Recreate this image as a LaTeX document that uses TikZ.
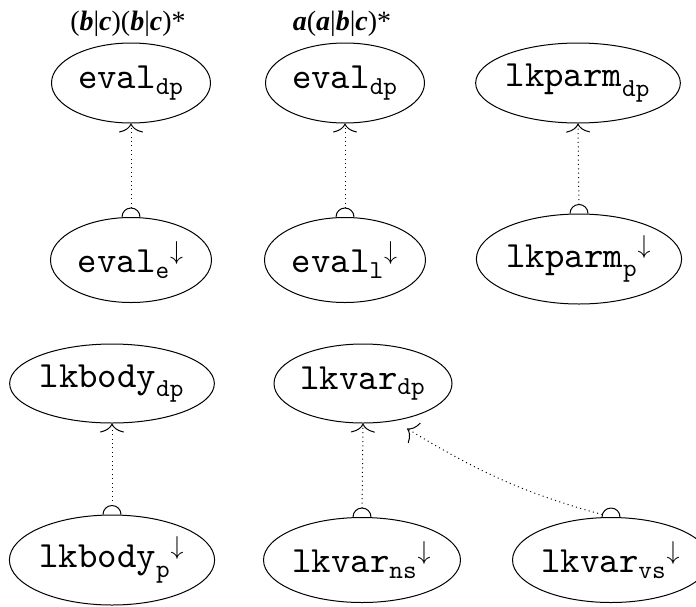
\RequirePackage{fix-cm}
\documentclass[tikz,border=0pt]{standalone}
\usepackage{fontspec}
\setmonofont[Extension=.otf]{lmmono10-regular}
\newfontfamily\lblfont{Liberation Serif}
\usetikzlibrary{shapes.geometric,arrows.meta}

% bold italic letter for the regular-expression labels
\newcommand{\bi}[1]{\textbf{\textit{#1}}}
% typewriter name with subscript, optionally followed by a down arrow
\newcommand{\tn}[2]{$\mathtt{#1}_{\mathtt{#2}}$}
\newcommand{\tnd}[2]{${\mathtt{#1}_{\mathtt{#2}}}^{\downarrow}$}

\tikzset{
  st/.style={ellipse, draw, line width=0.5pt, inner sep=0pt,
             font=\fontsize{18.5}{21}\selectfont},
  lbl/.style={inner sep=0pt, font=\lblfont\fontsize{14}{16}\selectfont},
  dep/.style={line width=0.5pt, dash pattern=on 0.5pt off 1.7pt,
              shorten <=4.5pt, -{To[length=4.5pt,width=12pt]}},
  capc/.style={line width=0.5pt},
}

\begin{document}
\begin{tikzpicture}[x=0.5pt,y=-0.5pt]
\useasboundingbox (0,0) rectangle (696,606);

% regular-expression labels
\node[lbl] (re1) at (128,24) {(\bi{b}|\bi{c})(\bi{b}|\bi{c})*};
\node[lbl] (re2) at (342,24) {\bi{a}(\bi{a}|\bi{b}|\bi{c})*};

% upper row of states
\node[st, minimum width=79.5pt, minimum height=40pt] (evaldpA) at (131,83) {\tn{eval}{dp}};
\node[st, minimum width=79.5pt, minimum height=40pt] (evaldpB) at (345,83) {\tn{eval}{dp}};
\node[st, minimum width=99pt, minimum height=40pt] (lkparmdp) at (578,83) {\tn{lkparm}{dp}};

\node[st, minimum width=80.5pt, minimum height=42.5pt] (evale) at (131,260) {\tnd{eval}{e}};
\node[st, minimum width=80.5pt, minimum height=42.5pt] (evall) at (345,260) {\tnd{eval}{l}};
\node[st, minimum width=100pt, minimum height=45pt] (lkparmp) at (579,259) {\tnd{lkparm}{p}};

% lower row of states
\node[st, minimum width=98.5pt, minimum height=39.5pt] (lkbodydp) at (112,383.5) {\tn{lkbody}{dp}};
\node[st, minimum width=89pt, minimum height=39.5pt] (lkvardp) at (363,383.5) {\tn{lkvar}{dp}};

\node[st, minimum width=100.5pt, minimum height=45pt] (lkbodyp) at (112,560) {\tnd{lkbody}{p}};
\node[st, minimum width=98pt, minimum height=42.5pt] (lkvarns) at (362,560) {\tnd{lkvar}{ns}};
\node[st, minimum width=98pt, minimum height=42.5pt] (lkvarvs) at (611,560) {\tnd{lkvar}{vs}};

% end point of the slanted dependency below lkvar_dp
\coordinate (vsend) at ([xshift=22pt,yshift=-2.5pt]lkvardp.south);

% dependencies
\draw[dep] (evale.north) -- (evaldpA.south);
\draw[dep] (evall.north) -- (evaldpB.south);
\draw[dep] (lkparmp.north) -- (lkparmdp.south);
\draw[dep] (lkbodyp.north) -- (lkbodydp.south);
\draw[dep] (lkvarns.north) -- (lkvardp.south);
\draw[dep] (lkvarvs.north) to[bend left=8] (vsend);

% half-circle caps at the start of each dependency
\foreach \n in {evale,evall,lkparmp,lkbodyp,lkvarns,lkvarvs}{
  \draw[capc] ([xshift=-4.5pt]\n.north) arc[start angle=180,end angle=0,radius=4.5pt];
}
\end{tikzpicture}
\end{document}
